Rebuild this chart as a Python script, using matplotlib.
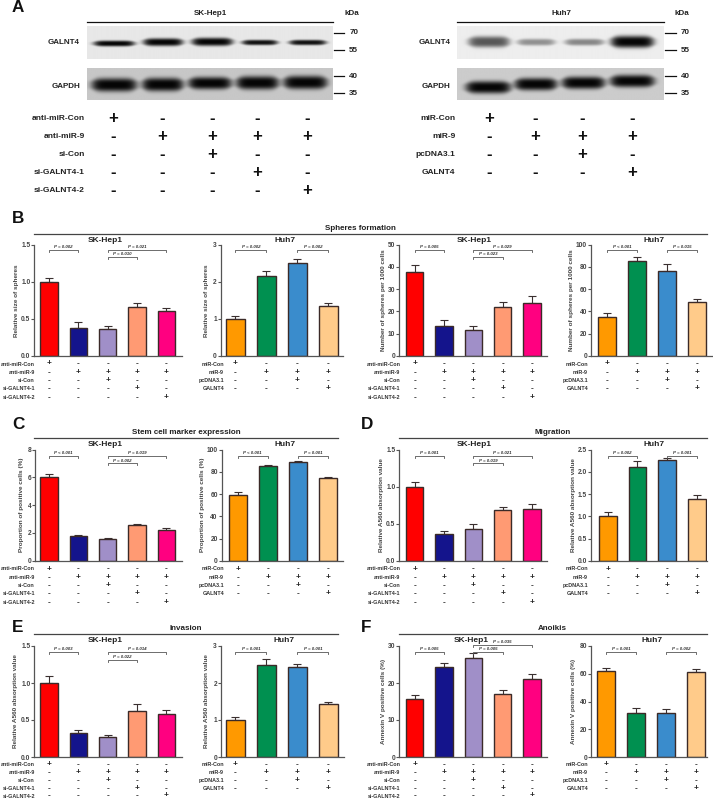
import numpy as np
import matplotlib
matplotlib.use("Agg")
import matplotlib.pyplot as plt
from matplotlib.lines import Line2D

plt.rcParams['font.family'] = ['Liberation Sans', 'DejaVu Sans']

W, H = 713, 801
fig = plt.figure(figsize=(W / 100, H / 100), dpi=100)

sk_colors = ['#ff0000', '#14148c', '#a08fc8', '#ff9a73', '#ff0080']
huh_colors = ['#ff9900', '#009050', '#3a8ccc', '#ffcb8a']
sk_rows = ['anti-miR-Con', 'anti-miR-9', 'si-Con', 'si-GALNT4-1', 'si-GALNT4-2']
huh_rows = ['miR-Con', 'miR-9', 'pcDNA3.1', 'GALNT4']
sk_signs = ['+----', '-++++', '--+--', '---+-', '----+']
huh_signs = ['+---', '-+++', '--+-', '---+']
kda_labels = ['70', '55', '40', '35']

# bar heights and top of the error bars
b1_vals, b1_tops = [1.0, 0.38, 0.36, 0.66, 0.60], [1.05, 0.45, 0.40, 0.71, 0.65]
b2_vals, b2_tops = [1.0, 2.15, 2.5, 1.33], [1.07, 2.29, 2.62, 1.43]
b3_vals, b3_tops = [37.5, 13.5, 11.5, 22, 23.8], [40.8, 16, 13.2, 24.4, 26.9]
b4_vals, b4_tops = [34.8, 85.2, 76.5, 48.5], [38.9, 89, 82.5, 51.5]
c1_vals, c1_tops = [6.0, 1.8, 1.55, 2.6, 2.2], [6.25, 1.88, 1.63, 2.68, 2.33]
c2_vals, c2_tops = [59.5, 85.3, 89.3, 74.2], [62, 86, 90, 75.7]
d1_vals, d1_tops = [1.0, 0.36, 0.43, 0.68, 0.70], [1.06, 0.40, 0.49, 0.72, 0.76]
d2_vals, d2_tops = [1.0, 2.12, 2.26, 1.38], [1.09, 2.25, 2.32, 1.47]
e1_vals, e1_tops = [1.0, 0.32, 0.27, 0.62, 0.58], [1.10, 0.37, 0.30, 0.71, 0.64]
e2_vals, e2_tops = [1.0, 2.5, 2.42, 1.42], [1.09, 2.64, 2.52, 1.48]
f1_vals, f1_tops = [15.8, 24.3, 26.8, 16.9, 21.2], [16.8, 25.4, 28.2, 18, 22.3]
f2_vals, f2_tops = [62, 32, 31.5, 61], [64, 35, 34.3, 63.3]

# western blot bands: lane centre, half width, y, thickness, darkness (in zoomed px)
sk_galnt4 = [(342, 62, 130, 12, 1.0), (488, 60, 126, 16, 1.0), (635, 62, 125, 17, 1.0),
             (777, 54, 127, 11, 0.95), (920, 56, 127, 11, 0.95)]
sk_gapdh = [(342, 68, 254, 27, 1.0), (487, 62, 253, 27, 1.0), (628, 65, 249, 25, 1.0),
            (770, 64, 248, 27, 1.0), (913, 66, 247, 27, 1.0)]
huh_galnt4 = [(387, 62, 125, 23, 0.65), (528, 57, 126, 14, 0.4),
              (672, 59, 126, 14, 0.44), (815, 65, 125, 25, 1.0)]
huh_gapdh = [(385, 68, 261, 25, 1.0), (527, 64, 252, 25, 1.0),
             (669, 65, 248, 25, 1.0), (815, 67, 243, 25, 1.0)]


def px_text(x, y, s, **kw):
    kw.setdefault('ha', 'center')
    kw.setdefault('va', 'center')
    kw.setdefault('color', '#222222')
    fig.text(x / W, 1 - y / H, s, **kw)


def px_line(x0, x1, y0, y1, color='#111111', lw=0.9):
    fig.add_artist(Line2D([x0 / W, x1 / W], [1 - y0 / H, 1 - y1 / H], color=color, lw=lw))


def blot(x0, x1, y0, y1, bands, offset, bg):
    nx, ny = int(x1 - x0) * 3, int(y1 - y0) * 3
    xx, yy = np.meshgrid(np.arange(nx) + 3 * x0 - offset, np.arange(ny) + 3 * y0)
    img = np.full((ny, nx), bg, dtype=float)
    for cx, hw, cy, th, dark in bands:
        taper = np.exp(-((xx - cx) / hw) ** 6)
        profile = taper * np.exp(-np.abs((yy - cy) / (th * 0.72 * (0.55 + 0.45 * taper))) ** 3)
        img = img * (1 - dark * profile) + 0.02 * dark * profile
    ax = fig.add_axes([x0 / W, 1 - y1 / H, (x1 - x0) / W, (y1 - y0) / H])
    ax.imshow(img, cmap='gray', vmin=0, vmax=1, aspect='auto', interpolation='bilinear')
    ax.axis('off')


def blot_panel(name, x0, x1, bands_a, bands_b, offset, bg_a, bg_b, rows, signs, cols, lab_right, row_right, kda_x):
    px_text((x0 + x1) / 2 + 0.5, 13.5, name, fontsize=5.8, fontweight='bold')
    px_line(x0, x1, 21.5, 21.5)
    blot(x0, x1, 26, 59, bands_a, offset, bg_a)
    blot(x0, x1, 67.5, 100, bands_b, offset, bg_b)
    px_text(lab_right, 42.3, 'GALNT4', fontsize=5.8, fontweight='bold', ha='right')
    px_text(lab_right + 0.5, 86.8, 'GAPDH', fontsize=5.8, fontweight='bold', ha='right')
    px_text(kda_x, 13.3, 'kDa', fontsize=5.8, fontweight='bold')
    for lab, y in zip(kda_labels, [32.5, 50, 76, 93.3]):
        px_line(x1 + 1, x1 + 11.5, y, y)
        px_text(x1 + 16.5, y + 0.5, lab, fontsize=5.8, fontweight='bold', ha='left')
    for i, lab in enumerate(rows):
        y = 119 + 18 * i
        px_text(row_right, y, lab, fontsize=6, fontweight='bold', ha='right')
        for c, s in zip(cols, signs[i]):
            px_text(c, y - 0.5, s, fontsize=12, fontweight='bold', color='#111111')


def bar_panel(left, right, top, centers, vals, tops, ymax, step, fmt, ylabel, ylab_x, title_x, title_y, brackets, row_right, row_step=8.3):
    height = 111
    n = len(vals)
    huh = n == 4
    s = (centers[-1] - centers[0]) / (n - 1)
    ax = fig.add_axes([left / W, 1 - (top + height) / H, (right - left) / W, height / H])
    x = np.arange(n)
    ax.bar(x, vals, width=0.6, color=huh_colors if huh else sk_colors, edgecolor='#3b2a28', linewidth=1.0, zorder=2)
    err = np.array(tops) - np.array(vals)
    ax.errorbar(x, vals, yerr=[np.zeros(n), err], fmt='none', ecolor='#3a3030', elinewidth=0.8,
                capsize=3.2, capthick=0.8, zorder=1)
    ax.set_xlim((left - centers[0]) / s, (right - centers[0]) / s)
    ax.set_ylim(0, ymax)
    ax.set_yticks(np.arange(0, ymax + step / 2, step))
    ax.set_yticklabels([fmt.format(v) for v in np.arange(0, ymax + step / 2, step)], fontsize=4.8,
                       fontweight='bold', color='#444444')
    ax.set_xticks([])
    ax.tick_params(axis='y', length=2.2, width=0.8, pad=0.6, color='#555555')
    ax.patch.set_alpha(0)
    for side in ['top', 'right']:
        ax.spines[side].set_visible(False)
    for side in ['left', 'bottom']:
        ax.spines[side].set_linewidth(0.9)
        ax.spines[side].set_color('#555555')
    trans = ax.get_xaxis_transform()
    for g0, g1, yf, lab in brackets:
        tip = 2 / height
        ax.plot([g0, g0, g1, g1], [yf - tip, yf, yf, yf - tip], transform=trans, color='#555555', lw=0.6, clip_on=False)
        ax.text((g0 + g1) / 2, yf + 2.8 / height, lab, transform=trans, fontsize=3.2, fontweight='bold',
                fontstyle='italic', ha='center', va='center', color='#333333')
    px_text(ylab_x, top + height / 2, ylabel, fontsize=4.6, fontweight='bold', rotation=90, color='#444444')
    px_text(title_x, title_y, 'Huh7' if huh else 'SK-Hep1', fontsize=6, fontweight='bold')
    rows, signs = (huh_rows, huh_signs) if huh else (sk_rows, sk_signs)
    for i, lab in enumerate(rows):
        off = row_step * (i + 1)
        px_text(row_right, top + height + off, lab, fontsize=3.9, fontweight='bold', ha='right', color='#333333')
        for j in range(n):
            ax.text(j, -off / height, signs[i][j], transform=trans, fontsize=6, fontweight='bold',
                    ha='center', va='center', color='#222222', clip_on=False)


# panel A
blot_panel('SK-Hep1', 87, 332.7, sk_galnt4, sk_gapdh, 0, 0.91, 0.78, sk_rows, sk_signs,
           [112.7, 162.3, 212.3, 256.7, 306.7], 80, 84.7, 351.7)
blot_panel('Huh7', 457.3, 664, huh_galnt4, huh_gapdh, 1080, 0.93, 0.80, huh_rows, huh_signs,
           [489, 535, 581.7, 632.3], 450.3, 455.3, 682)

# section headings and rules
for lab, x, y in [('A', 18, 7.5), ('B', 18, 218.5), ('C', 18, 425), ('D', 367, 425), ('E', 18, 628), ('F', 366, 628)]:
    px_text(x, y, lab, fontsize=12.3, fontweight='bold', color='#111111')
for lab, cx, ty, ly, x0, x1 in [('Spheres formation', 360, 229, 234, 34, 706.7),
                                ('Stem cell marker expression', 186, 433, 438.3, 34, 338),
                                ('Migration', 552.7, 433, 437.7, 399, 706.7),
                                ('Invasion', 186, 629, 634, 34, 338),
                                ('Anoikis', 552.7, 629, 634, 399, 706.7)]:
    px_text(cx, ty, lab, fontsize=5.8, fontweight='bold')
    px_line(x0, x1, ly, ly, color='#444444', lw=0.9)

c5a = [49, 78.3, 107.7, 137, 166.3]
c5b = [414.7, 444, 473.3, 502.7, 532]

# panel B
bar_panel(34.3, 181.7, 244.7, c5a, b1_vals, b1_tops, 1.5, 0.5, '{:.1f}', 'Relative size of spheres', 16.7, 105, 240,
          [(0, 1, .952, 'P = 0.002'), (2, 4, .952, 'P = 0.021'), (2, 3, .889, 'P = 0.010')], 35)
bar_panel(220.7, 343, 244.7, [235.3, 266.3, 297.3, 328.3], b2_vals, b2_tops, 3, 1, '{:.0f}', 'Relative size of spheres', 206.7, 285, 240,
          [(0, 1, .952, 'P = 0.002'), (2, 3, .952, 'P = 0.002')], 224)
bar_panel(399.3, 546.7, 244.7, c5b, b3_vals, b3_tops, 50, 10, '{:.0f}', 'Number of spheres per 1000 cells', 383.3, 474, 240,
          [(0, 1, .952, 'P = 0.005'), (2, 4, .952, 'P = 0.029'), (2, 3, .889, 'P = 0.023')], 400.7)
bar_panel(591, 713, 244.7, [606.7, 636.7, 667, 697.3], b4_vals, b4_tops, 100, 20, '{:.0f}', 'Number of spheres per 1000 cells', 571, 654, 240,
          [(0, 1, .952, 'P < 0.001'), (2, 3, .952, 'P = 0.015')], 588)

# panel C
bar_panel(35, 181.7, 449.7, c5a, c1_vals, c1_tops, 8, 2, '{:.0f}', 'Proportion of positive cells (%)', 21.7, 105, 444,
          [(0, 1, .946, 'P < 0.001'), (2, 4, .946, 'P = 0.019'), (2, 3, .877, 'P = 0.002')], 35)
bar_panel(221.7, 343, 449.7, [237.7, 267.7, 298, 328], c2_vals, c2_tops, 100, 20, '{:.0f}', 'Proportion of positive cells (%)', 202.7, 285, 444,
          [(0, 1, .946, 'P < 0.001'), (2, 3, .946, 'P = 0.001')], 224)

# panel D
bar_panel(399.3, 546.7, 449.7, c5b, d1_vals, d1_tops, 1.5, 0.5, '{:.1f}', 'Relative A560 absorption value', 381.7, 474, 444,
          [(0, 1, .946, 'P = 0.001'), (2, 4, .946, 'P = 0.021'), (2, 3, .877, 'P = 0.019')], 400.7)
bar_panel(591, 707, 449.7, [607.7, 637.3, 667, 697], d2_vals, d2_tops, 2.5, 0.5, '{:.1f}', 'Relative A560 absorption value', 574, 654, 444,
          [(0, 1, .946, 'P = 0.002'), (2, 3, .946, 'P = 0.001')], 588)

# panel E
bar_panel(34.3, 181.7, 646, c5a, e1_vals, e1_tops, 1.5, 0.5, '{:.1f}', 'Relative A560 absorption value', 16, 105, 640.7,
          [(0, 1, .946, 'P = 0.003'), (2, 4, .946, 'P = 0.014'), (2, 3, .877, 'P = 0.022')], 35, row_step=7.8)
bar_panel(221, 344, 646, [235.3, 266.7, 297.7, 328.3], e2_vals, e2_tops, 3, 1, '{:.0f}', 'Relative A560 absorption value', 206.7, 283.5, 640.7,
          [(0, 1, .946, 'P = 0.001'), (2, 3, .946, 'P = 0.001')], 224, row_step=7.8)

# panel F
bar_panel(399.3, 546.7, 646, c5b, f1_vals, f1_tops, 30, 10, '{:.0f}', 'Annexin V positive cells (%)', 384, 471, 641,
          [(0, 1, .946, 'P = 0.005'), (2, 4, 1.009, 'P = 0.035'), (2, 3, .946, 'P = 0.005')], 400.7, row_step=7.8)
bar_panel(591, 707, 646, [606, 636, 666.3, 696.3], f2_vals, f2_tops, 80, 20, '{:.0f}', 'Annexin V positive cells (%)', 574, 652, 641,
          [(0, 1, .946, 'P = 0.001'), (2, 3, .946, 'P = 0.002')], 588, row_step=7.8)

fig.savefig('out.png', dpi=100)
